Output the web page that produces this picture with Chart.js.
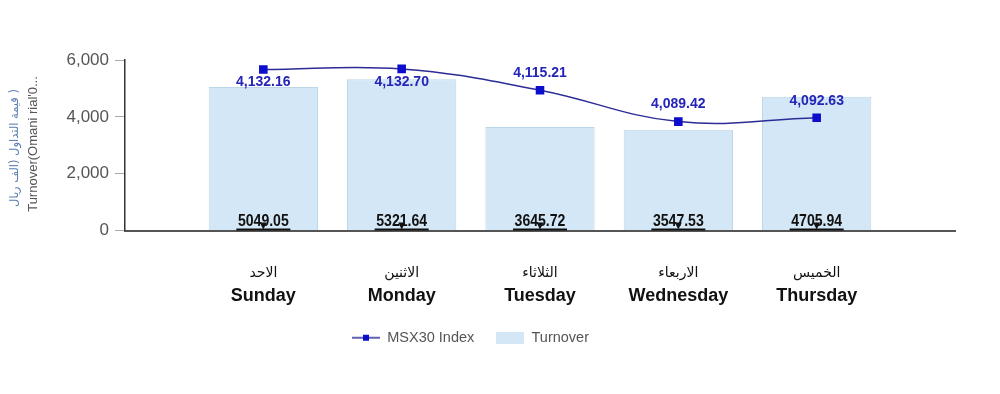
<!DOCTYPE html>
<html>
<head>
<meta charset="utf-8">
<script src="https://cdn.jsdelivr.net/npm/chart.js@4/dist/chart.umd.min.js"></script>
<style>
  html, body { margin: 0; padding: 0; background: #fff; }
  #wrap { width: 1000px; height: 394px; }
</style>
</head>
<body>
<div id="wrap"><canvas id="chart"></canvas></div>
<script>
const daysEn = ['Sunday', 'Monday', 'Tuesday', 'Wednesday', 'Thursday']
const daysAr = ['الاحد', 'الاثنين', 'الثلاثاء', 'الاربعاء', 'الخميس']
const turnover = [5049.05, 5321.64, 3645.72, 3547.53, 4705.94]
const msx30 = [4132.16, 4132.70, 4115.21, 4089.42, 4092.63]
const turnoverMax = 6000
const turnoverStep = 2000
const indexMin = 4000
const indexMax = 4140
const yTitle = ['( قيمة التداول (الف ريال', "Turnover(Omani rial'0..."]

// one empty slot on each side, like the original plot
const slots = ['', ...daysEn, '']
const pad = arr => [null, ...arr, null]

const LINE = '#2c2c96'
const POINT = '#0d0dcc'
const BAR = '#d3e7f6'
const BAR_EDGE = '#bcd6ea'

function makeIcon(kind) {
  const c = document.createElement('canvas')
  c.width = 28; c.height = 12
  const g = c.getContext('2d')
  if (kind === 'line') {
    g.strokeStyle = LINE; g.lineWidth = 1.5
    g.beginPath(); g.moveTo(0, 6); g.lineTo(28, 6); g.stroke()
    g.fillStyle = POINT; g.fillRect(11, 3, 6, 6)
  } else {
    g.fillStyle = BAR; g.fillRect(0, 0, 28, 12)
  }
  return c
}
const legendIcons = [makeIcon('line'), makeIcon('bar')]

const fmt = v => v.toLocaleString('en-US', { minimumFractionDigits: 2, maximumFractionDigits: 2 })

const extras = {
  id: 'extras',
  afterLayout(chart) {
    // legend sits a little left of centre in the original
    chart.legend.right -= 14
  },
  afterDatasetsDraw(chart) {
    const ctx = chart.ctx
    const area = chart.chartArea
    ctx.save()
    ctx.textAlign = 'center'
    ctx.textBaseline = 'middle'

    // index values next to the points
    ctx.fillStyle = '#2424b8'
    ctx.font = 'bold 14px "Liberation Sans", Arial, sans-serif'
    chart.getDatasetMeta(0).data.forEach((pt, i) => {
      const v = chart.data.datasets[0].data[i]
      if (v == null) return
      const below = pt.y - area.top < 20
      ctx.fillText(fmt(v), pt.x, below ? pt.y + 13 : pt.y - 17)
    })

    // turnover values at the foot of the bars (condensed look)
    ctx.fillStyle = '#111'
    ctx.strokeStyle = '#111'
    ctx.font = 'bold 16px "Liberation Sans", Arial, sans-serif'
    chart.getDatasetMeta(1).data.forEach((bar, i) => {
      const v = chart.data.datasets[1].data[i]
      if (v == null) return
      ctx.save()
      ctx.translate(bar.x, area.bottom - 9)
      ctx.scale(0.88, 1)
      ctx.fillText(v.toFixed(2), 0, 0)
      ctx.restore()
      ctx.lineWidth = 2
      ctx.beginPath()
      ctx.moveTo(bar.x - 27, area.bottom - 1)
      ctx.lineTo(bar.x + 27, area.bottom - 1)
      ctx.stroke()
      ctx.beginPath()
      ctx.moveTo(bar.x - 3.5, area.bottom - 8)
      ctx.lineTo(bar.x + 3.5, area.bottom - 8)
      ctx.lineTo(bar.x, area.bottom - 1)
      ctx.closePath()
      ctx.fill()
    })
    ctx.restore()
  },
  afterDraw(chart) {
    const ctx = chart.ctx
    const area = chart.chartArea
    const x = chart.scales.x
    ctx.save()
    ctx.textAlign = 'center'
    ctx.textBaseline = 'middle'

    // two-line day labels
    daysEn.forEach((d, i) => {
      const px = x.getPixelForValue(i + 1)
      ctx.fillStyle = '#111'
      ctx.font = '14px "DejaVu Sans", sans-serif'
      ctx.fillText(daysAr[i], px, area.bottom + 43)
      ctx.font = 'bold 18px "Liberation Sans", Arial, sans-serif'
      ctx.fillText(d, px, area.bottom + 66)
    })

    // rotated y-axis title
    ctx.translate(15, 148)
    ctx.rotate(-Math.PI / 2)
    ctx.direction = 'rtl'
    ctx.font = '11.5px "DejaVu Sans", "Liberation Sans", sans-serif'
    ctx.fillStyle = '#5a7db0'
    ctx.fillText(yTitle[0], 0, 0)
    ctx.direction = 'ltr'
    ctx.font = '13px "Liberation Sans", Arial, sans-serif'
    ctx.fillStyle = '#555'
    ctx.fillText(yTitle[1], 4, 18)
    ctx.restore()
  }
}

new Chart(document.getElementById('chart'), {
  type: 'bar',
  data: {
    labels: slots,
    datasets: [
      {
        type: 'line',
        label: 'MSX30 Index',
        data: pad(msx30),
        yAxisID: 'y1',
        borderColor: LINE,
        borderWidth: 1.5,
        tension: 0.4,
        pointStyle: 'rect',
        pointRadius: 5,
        pointBackgroundColor: POINT,
        pointBorderColor: POINT,
        order: 0
      },
      {
        label: 'Turnover',
        data: pad(turnover),
        yAxisID: 'y',
        backgroundColor: BAR,
        borderColor: BAR_EDGE,
        borderWidth: 1,
        barPercentage: 0.79,
        categoryPercentage: 1,
        order: 1
      }
    ]
  },
  options: {
    responsive: true,
    maintainAspectRatio: false,
    animation: false,
    layout: { padding: { top: 60, right: 45, bottom: 39, left: 0 } },
    scales: {
      x: {
        offset: false,
        grid: { display: false },
        border: { color: '#555', width: 2 },
        ticks: { display: false },
        afterFit: s => { s.height = 78 }
      },
      y: {
        position: 'left',
        min: 0,
        max: turnoverMax,
        ticks: {
          stepSize: turnoverStep,
          color: '#555',
          padding: 6,
          font: { size: 17, family: '"Liberation Sans", Arial, sans-serif' }
        },
        grid: { drawOnChartArea: false, tickLength: 10, color: '#aaa' },
        border: { color: '#333', width: 1.5 },
        afterFit: s => { s.width = 125 }
      },
      y1: {
        display: false,
        min: indexMin,
        max: indexMax
      }
    },
    plugins: {
      tooltip: { enabled: false },
      legend: {
        position: 'bottom',
        labels: {
          usePointStyle: true,
          pointStyleWidth: 28,
          boxHeight: 12,
          padding: 22,
          color: '#555',
          font: { size: 14.5, family: '"Liberation Sans", Arial, sans-serif' },
          generateLabels(chart) {
            const items = Chart.defaults.plugins.legend.labels.generateLabels(chart)
            items.forEach(it => { it.pointStyle = legendIcons[it.datasetIndex] })
            return items
          }
        }
      }
    }
  },
  plugins: [extras]
})
</script>
</body>
</html>
